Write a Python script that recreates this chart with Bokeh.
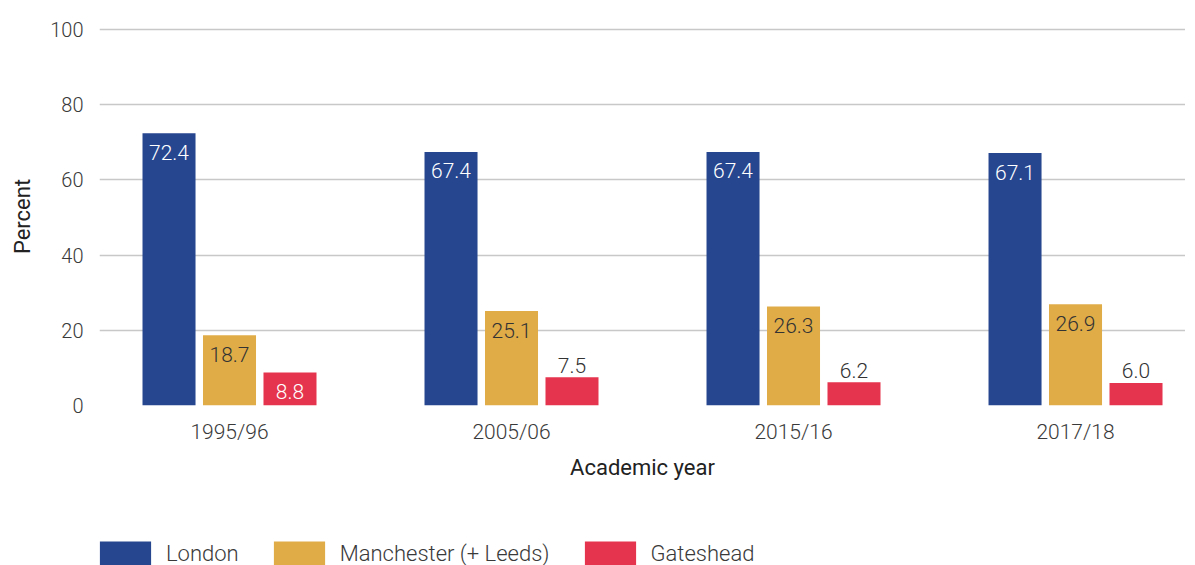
import numpy as np
from bokeh.plotting import figure
from bokeh.layouts import column
from bokeh.models import ColumnDataSource, FixedTicker, Legend, LegendItem, Range1d
from bokeh.core.properties import value
from bokeh.embed import file_html
from bokeh.resources import INLINE

years = ["1995/96", "2005/06", "2015/16", "2017/18"]
series_names = ["London", "Manchester (+ Leeds)", "Gateshead"]
london = [72.4, 67.4, 67.4, 67.1]
manchester = [18.7, 25.1, 26.3, 26.9]
gateshead = [8.8, 7.5, 6.2, 6.0]
y_ticks = [0, 20, 40, 60, 80, 100]

colors = ["#26468F", "#E0AC48", "#E5344D"]
inside_text_colors = ["#FFFFFF", "#333333", "#FFFFFF"]
FONT = "Roboto Light, Roboto"
TITLE_FONT = "Roboto"
TXT = "#3a3a3a"

p = figure(width=1185, height=490, output_backend="svg", toolbar_location=None,
           x_range=Range1d(-0.461, 3.390), y_range=Range1d(0, 100.5),
           min_border_left=99, min_border_right=0, min_border_top=27, min_border_bottom=85)
p.outline_line_color = None
p.background_fill_color = "white"
p.border_fill_color = "white"

x = np.arange(len(years))
offsets = [-0.2145, 0.0, 0.2145]
bar_w = 0.188

sources = []
for name, vals, col, tcol, off in zip(series_names, [london, manchester, gateshead],
                                      colors, inside_text_colors, offsets):
    vals = np.array(vals)
    inside = vals >= 8
    src = ColumnDataSource(dict(
        x=x + off, top=vals,
        label=[f"{v:.1f}" for v in vals],
        yoff=np.where(inside, 19, -12),
        tcol=[tcol if i else "#333333" for i in inside],
    ))
    sources.append(src)
    p.vbar(x="x", top="top", width=bar_w, bottom=0, source=src,
           fill_color=col, line_color=None)
    p.text(x="x", y="top", text="label", source=src, y_offset="yoff",
           text_align="center", text_baseline="middle",
           text_color="tcol", text_font=value(FONT), text_font_size="21px")

# axes
p.xaxis.ticker = FixedTicker(ticks=list(x))
p.xaxis.major_label_overrides = {int(i): y for i, y in zip(x, years)}
p.xaxis.axis_line_color = None
p.xaxis.major_tick_line_color = None
p.xaxis.minor_tick_line_color = None
p.xaxis.major_label_standoff = 8
p.xaxis.axis_label = "Academic year"
p.xaxis.axis_label_standoff = 8
p.xaxis.major_label_text_font = FONT
p.xaxis.major_label_text_font_size = "21px"
p.xaxis.major_label_text_color = TXT
p.xaxis.axis_label_text_font = TITLE_FONT
p.xaxis.axis_label_text_font_size = "22px"
p.xaxis.axis_label_text_font_style = "normal"
p.xaxis.axis_label_text_color = "#222222"

p.yaxis.ticker = FixedTicker(ticks=y_ticks)
p.yaxis.axis_line_color = None
p.yaxis.major_tick_line_color = None
p.yaxis.minor_tick_line_color = None
p.yaxis.major_label_standoff = 10
p.yaxis.axis_label = "Percent"
p.yaxis.axis_label_standoff = 12
p.yaxis.major_label_text_font = FONT
p.yaxis.major_label_text_font_size = "20px"
p.yaxis.major_label_text_color = TXT
p.yaxis.axis_label_text_font = TITLE_FONT
p.yaxis.axis_label_text_font_size = "22px"
p.yaxis.axis_label_text_font_style = "normal"
p.yaxis.axis_label_text_color = "#222222"

p.xgrid.grid_line_color = None
p.ygrid.grid_line_color = "#c8c8c8"
p.ygrid.grid_line_width = 1.5

# legend strip below the chart (bars of this strip lie outside its ranges)
lf = figure(width=1185, height=75, output_backend="svg", toolbar_location=None,
            x_axis_type=None, y_axis_type=None,
            x_range=Range1d(100, 101), y_range=Range1d(100, 101),
            min_border_left=99, min_border_right=0, min_border_top=0, min_border_bottom=0)
lf.outline_line_color = None
lf.xgrid.visible = False
lf.ygrid.visible = False
items = []
for name, col, src in zip(series_names, colors, sources):
    r = lf.vbar(x="x", top="top", width=bar_w, source=src, fill_color=col, line_color=None)
    items.append(LegendItem(label=name, renderers=[r]))
legend = Legend(items=items, orientation="horizontal", location=(-6, -3),
                glyph_width=64, glyph_height=30, label_standoff=9, spacing=28,
                padding=0, margin=0, border_line_color=None, background_fill_alpha=0,
                label_text_font=FONT, label_text_font_size="22px", label_text_color=TXT)
lf.add_layout(legend, "center")

layout = column(p, lf, spacing=0)
open("out.html", "w").write(file_html(layout, INLINE))
